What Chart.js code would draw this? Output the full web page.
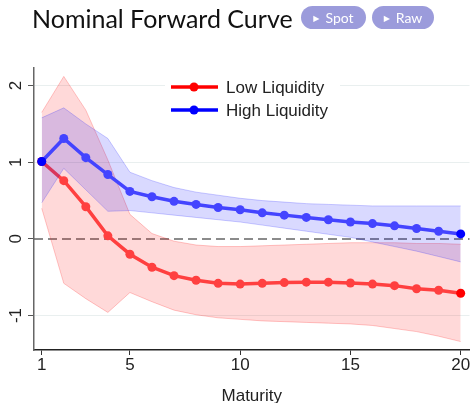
<!DOCTYPE html>
<html>
<head>
<meta charset="utf-8">
<script src="https://cdn.jsdelivr.net/npm/chart.js@4/dist/chart.umd.min.js"></script>
<style>
  html, body { margin: 0; padding: 0; background: #fff; }
  #wrap { position: relative; width: 474px; height: 403px; overflow: hidden; }
  #title {
    position: absolute; left: 32px; top: 3px;
    font-family: Lato, sans-serif; font-size: 25px; color: #111;
    line-height: 30px; white-space: nowrap;
  }
  .pill {
    position: absolute; top: 6px; height: 23px; border-radius: 12px;
    background: #9b9bdb; color: #fff; font-family: Lato, sans-serif;
    font-size: 14px; line-height: 23px; text-align: center;
  }
  .pill .tri { font-size: 8px; vertical-align: 2px; margin-right: 6px; font-family: "DejaVu Sans", sans-serif; }
  canvas { position: absolute; left: 0; top: 0; }
</style>
</head>
<body>
<div id="wrap">
  <canvas id="chart" width="474" height="403"></canvas>
  <div id="title">Nominal Forward Curve</div>
  <div class="pill" style="left:301px;width:65px;"><span class="tri">&#9654;</span>Spot</div>
  <div class="pill" style="left:372px;width:62px;"><span class="tri">&#9654;</span>Raw</div>
</div>
<script>
// maturities (x axis)
const maturity = [1, 2, 3, 4, 5, 6, 7, 8, 9, 10, 11, 12, 13, 14, 15, 16, 17, 18, 19, 20];
const xTicks = [1, 5, 10, 15, 20];
const yTicks = [-1, 0, 1, 2];

// Low Liquidity
const lowMid   = [1.01, 0.76, 0.42, 0.04, -0.20, -0.37, -0.48, -0.54, -0.58, -0.59, -0.58, -0.57, -0.565, -0.565, -0.575, -0.59, -0.61, -0.65, -0.67, -0.71];
const lowUpper = [1.65, 2.12, 1.68, 1.03, 0.32, 0.07, -0.03, -0.08, -0.10, -0.10, -0.09, -0.08, -0.07, -0.06, -0.05, -0.05, -0.05, -0.06, -0.06, -0.07];
const lowLower = [0.40, -0.58, -0.78, -0.96, -0.70, -0.82, -0.93, -0.99, -1.03, -1.05, -1.07, -1.08, -1.09, -1.10, -1.11, -1.13, -1.17, -1.21, -1.27, -1.34];

// High Liquidity
const highMid   = [1.01, 1.31, 1.06, 0.84, 0.62, 0.55, 0.49, 0.45, 0.41, 0.38, 0.34, 0.31, 0.28, 0.25, 0.22, 0.20, 0.17, 0.135, 0.10, 0.065];
const highUpper = [1.58, 1.71, 1.50, 1.31, 0.87, 0.76, 0.67, 0.61, 0.57, 0.53, 0.50, 0.48, 0.46, 0.45, 0.44, 0.43, 0.43, 0.43, 0.43, 0.43];
const highLower = [0.47, 0.92, 0.64, 0.36, 0.37, 0.34, 0.31, 0.28, 0.25, 0.22, 0.18, 0.14, 0.10, 0.06, 0.02, -0.04, -0.10, -0.16, -0.23, -0.30];

const pts = (arr) => arr.map((v, i) => ({ x: maturity[i], y: v }));
const endColors = (mid, end) => maturity.map((_, i) => (i === 0 || i === maturity.length - 1) ? end : mid);

const band = (arr, fill, border, order, toNext) => ({
  data: pts(arr),
  fill: toNext ? '+1' : false,
  backgroundColor: fill,
  borderColor: border,
  borderWidth: 1,
  pointRadius: 0,
  tension: 0,
  order: order
});

const line = (arr, mid, end, order) => ({
  data: pts(arr),
  borderColor: mid,
  borderWidth: 3.5,
  pointRadius: 4.5,
  pointBorderWidth: 0,
  pointBackgroundColor: endColors(mid, end),
  fill: false,
  tension: 0,
  order: order
});

// zero line, rotated y labels and legend
const extras = {
  id: 'extras',
  beforeDatasetsDraw(chart) {
    const { ctx, chartArea: a, scales: { y } } = chart;
    const py = y.getPixelForValue(0);
    ctx.save();
    ctx.strokeStyle = '#666';
    ctx.lineWidth = 1.5;
    ctx.setLineDash([9, 5]);
    ctx.beginPath();
    ctx.moveTo(a.left, py);
    ctx.lineTo(a.right, py);
    ctx.stroke();
    ctx.restore();
  },
  afterDraw(chart) {
    const { ctx, scales: { y } } = chart;
    ctx.save();
    ctx.fillStyle = '#222';
    ctx.font = '17px "Liberation Sans", Arial, sans-serif';
    ctx.textAlign = 'center';
    ctx.textBaseline = 'middle';
    yTicks.forEach(v => {
      ctx.save();
      ctx.translate(15, y.getPixelForValue(v));
      ctx.rotate(-Math.PI / 2);
      ctx.fillText(String(v), 0, 1);
      ctx.restore();
    });

    // legend
    ctx.fillStyle = '#fff';
    ctx.fillRect(165, 76, 175, 44);
    const items = [['Low Liquidity', '#ff0000', 87], ['High Liquidity', '#0000ff', 110]];
    items.forEach(([label, color, ly]) => {
      ctx.strokeStyle = color;
      ctx.lineWidth = 3.5;
      ctx.beginPath();
      ctx.moveTo(171, ly);
      ctx.lineTo(218, ly);
      ctx.stroke();
      ctx.fillStyle = color;
      ctx.beginPath();
      ctx.arc(194, ly, 4.5, 0, Math.PI * 2);
      ctx.fill();
      ctx.fillStyle = '#222';
      ctx.textAlign = 'left';
      ctx.fillText(label, 226, ly + 1);
    });
    ctx.restore();
  }
};

new Chart(document.getElementById('chart').getContext('2d'), {
  type: 'line',
  data: {
    datasets: [
      band(lowUpper, 'rgba(255,0,0,0.15)', 'rgba(255,0,0,0.22)', 4, true),
      band(lowLower, 'rgba(255,0,0,0.15)', 'rgba(255,0,0,0.22)', 4, false),
      line(lowMid, '#ff4040', '#ff0000', 3),
      band(highUpper, 'rgba(0,0,255,0.15)', 'rgba(0,0,255,0.2)', 2, true),
      band(highLower, 'rgba(0,0,255,0.15)', 'rgba(0,0,255,0.2)', 2, false),
      line(highMid, '#4444ff', '#0000ff', 1)
    ]
  },
  options: {
    responsive: false,
    animation: false,
    layout: { padding: { top: 68, right: 3, left: 0, bottom: 0 } },
    plugins: {
      legend: { display: false },
      tooltip: { enabled: false }
    },
    scales: {
      x: {
        type: 'linear',
        min: 0.65,
        max: 20.4,
        afterBuildTicks: (s) => { s.ticks = xTicks.map(v => ({ value: v })); },
        afterFit: (s) => { s.height = 53; },
        border: { display: true, color: '#222', width: 1.5 },
        grid: { display: true, drawOnChartArea: false, drawTicks: true, tickLength: 5, color: '#333' },
        ticks: {
          color: '#222',
          padding: 0,
          maxRotation: 0,
          font: { family: '"Liberation Sans", Arial, sans-serif', size: 17 }
        },
        title: {
          display: true,
          text: 'Maturity',
          color: '#222',
          padding: { top: 4, bottom: -4 },
          font: { family: '"Liberation Sans", Arial, sans-serif', size: 17 }
        }
      },
      y: {
        min: -1.45,
        max: 2.23,
        afterBuildTicks: (s) => { s.ticks = yTicks.map(v => ({ value: v })); },
        afterFit: (s) => { s.width = 34; },
        border: { display: true, color: '#666', width: 1.5 },
        grid: {
          display: true,
          drawTicks: true,
          tickLength: 6,
          tickColor: '#555',
          color: (c) => c.tick && c.tick.value === 0 ? 'rgba(0,0,0,0)' : '#e9efef',
          lineWidth: 1
        },
        ticks: { display: false }
      }
    }
  },
  plugins: [extras]
});
</script>
</body>
</html>
